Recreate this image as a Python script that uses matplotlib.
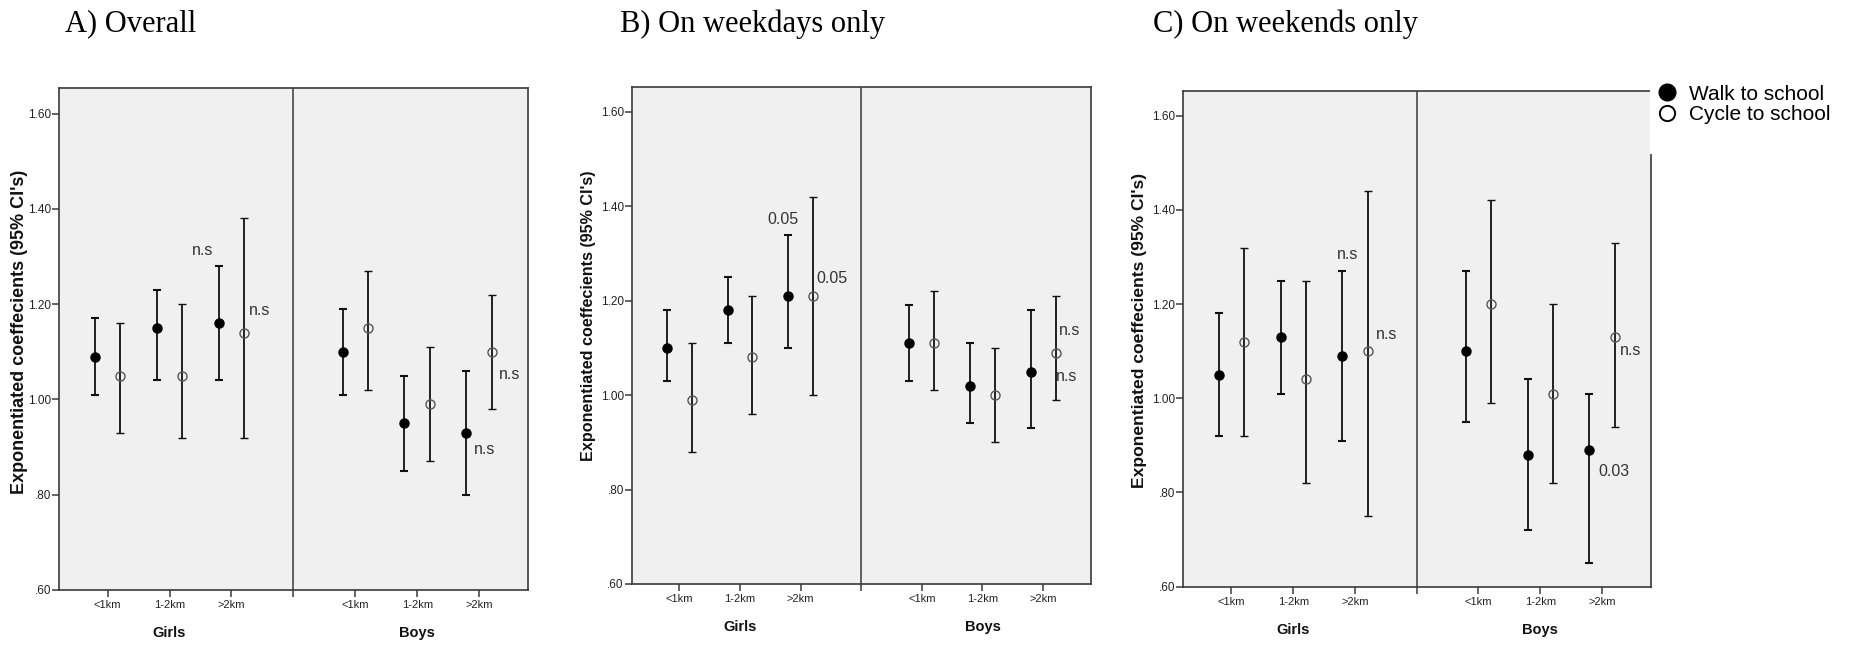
import matplotlib
matplotlib.use('Agg')
import matplotlib.pyplot as plt
import numpy as np
from matplotlib.lines import Line2D
from matplotlib.patches import Rectangle

# ---------------- data ----------------
distances = ['<1km', '1-2km', '>2km']
groups = ['Girls', 'Boys']
panel_titles = ['A) Overall', 'B) On weekdays only', 'C) On weekends only']
y_ticks = [0.60, 0.80, 1.00, 1.20, 1.40, 1.60]
y_tick_labels = ['.60', '.80', '1.00', '1.20', '1.40', '1.60']
series_names = ['Walk to school', 'Cycle to school']
y_label = "Exponentiated coeffecients (95% CI's)"

# order: Girls <1km, 1-2km, >2km, Boys <1km, 1-2km, >2km
a_walk_est = [1.09, 1.15, 1.16, 1.10, 0.95, 0.93]
a_walk_lo = [1.01, 1.04, 1.04, 1.01, 0.85, 0.80]
a_walk_hi = [1.17, 1.23, 1.28, 1.19, 1.05, 1.06]
a_cyc_est = [1.05, 1.05, 1.14, 1.15, 0.99, 1.10]
a_cyc_lo = [0.93, 0.92, 0.92, 1.02, 0.87, 0.98]
a_cyc_hi = [1.16, 1.20, 1.38, 1.27, 1.11, 1.22]

b_walk_est = [1.10, 1.18, 1.21, 1.11, 1.02, 1.05]
b_walk_lo = [1.03, 1.11, 1.10, 1.03, 0.94, 0.93]
b_walk_hi = [1.18, 1.25, 1.34, 1.19, 1.11, 1.18]
b_cyc_est = [0.99, 1.08, 1.21, 1.11, 1.00, 1.09]
b_cyc_lo = [0.88, 0.96, 1.00, 1.01, 0.90, 0.99]
b_cyc_hi = [1.11, 1.21, 1.42, 1.22, 1.10, 1.21]

c_walk_est = [1.05, 1.13, 1.09, 1.10, 0.88, 0.89]
c_walk_lo = [0.92, 1.01, 0.91, 0.95, 0.72, 0.65]
c_walk_hi = [1.18, 1.25, 1.27, 1.27, 1.04, 1.01]
c_cyc_est = [1.12, 1.04, 1.10, 1.20, 1.01, 1.13]
c_cyc_lo = [0.92, 0.82, 0.75, 0.99, 0.82, 0.94]
c_cyc_hi = [1.32, 1.25, 1.44, 1.42, 1.20, 1.33]

# significance labels (text, x in category units, y in data units)
a_notes = [('n.s', 2.54, 1.312), ('n.s', 3.45, 1.186), ('n.s', 7.50, 1.053), ('n.s', 7.09, 0.895)]
b_notes = [('0.05', 2.71, 1.372), ('0.05', 3.51, 1.247), ('n.s', 7.43, 1.137), ('n.s', 7.38, 1.039)]
c_notes = [('n.s', 2.88, 1.305), ('n.s', 3.51, 1.136), ('n.s', 7.47, 1.102), ('0.03', 7.20, 0.844)]

panels = [
    (a_walk_est, a_walk_lo, a_walk_hi, a_cyc_est, a_cyc_lo, a_cyc_hi, a_notes),
    (b_walk_est, b_walk_lo, b_walk_hi, b_cyc_est, b_cyc_lo, b_cyc_hi, b_notes),
    (c_walk_est, c_walk_lo, c_walk_hi, c_cyc_est, c_cyc_lo, c_cyc_hi, c_notes),
]

# ---------------- layout ----------------
W, H = 1851, 646
fig = plt.figure(figsize=(W / 100, H / 100), dpi=100)
fig.patch.set_facecolor('white')

# axes rectangles in pixels: left, top, right, bottom
rects = [(58.7, 88.3, 528.0, 590.0),
         (631.5, 86.9, 1091.0, 584.0),
         (1182.7, 90.7, 1650.7, 586.7)]
title_x = [65, 620, 1153]
ylab_pos = [(20, 332, 13.0), (588, 316, 11.6), (1139, 330, 12.6)]

SANS = ['Liberation Sans', 'DejaVu Sans']
SERIF = ['Liberation Serif', 'DejaVu Serif']
EDGE = '#3a3a3a'

group_pos = [np.arange(1, 4), np.arange(5, 8)]
pos = np.concatenate(group_pos).astype(float)
off = 0.205

for k, (rect, data) in enumerate(zip(rects, panels)):
    l, t, r, b = rect
    ax = fig.add_axes([l / W, 1 - b / H, (r - l) / W, (b - t) / H])
    ax.set_facecolor('#f0f0f0')
    we, wl, wh, ce, cl, ch, notes = data
    we, wl, wh = np.array(we), np.array(wl), np.array(wh)
    ce, cl, ch = np.array(ce), np.array(cl), np.array(ch)

    ax.errorbar(pos - off, we, yerr=[we - wl, wh - we], fmt='o', ms=6.5,
                mfc='black', mec='black', ecolor='#111111', elinewidth=1.3,
                capsize=2.6, capthick=1.5, zorder=3)
    ax.errorbar(pos + off, ce, yerr=[ce - cl, ch - ce], fmt='o', ms=6.5,
                mfc='none', mec='#555555', mew=1.0, ecolor='#111111',
                elinewidth=1.3, capsize=2.6, capthick=1.5, zorder=3)

    for txt, x, y in notes:
        ax.text(x, y, txt, ha='center', va='center', fontsize=11.5,
                color='#333333', family=SANS, zorder=4)

    ax.axvline(4, color=EDGE, lw=1.1, zorder=2)
    ax.set_xlim(0.21, 7.79)
    ax.set_ylim(0.60, 1.653)
    ax.set_xticks([1, 2, 3, 4, 5, 6, 7])
    ax.set_xticklabels(distances + [''] + distances, fontsize=8, family=SANS, color='#222222')
    ax.set_yticks(y_ticks)
    ax.set_yticklabels(y_tick_labels, fontsize=8.5, family=SANS, color='#222222')
    ax.tick_params(axis='both', direction='out', length=5, width=1.1, color=EDGE)
    ax.tick_params(axis='x', pad=2.5)
    ax.tick_params(axis='y', pad=0.5)
    for s in ax.spines.values():
        s.set_color(EDGE)
        s.set_linewidth(1.2)

    for g, gp in zip(groups, group_pos):
        ax.annotate(g, xy=(gp.mean(), 0), xycoords=ax.get_xaxis_transform(),
                    xytext=(0, -31), textcoords='offset points', ha='center',
                    va='center', fontsize=10.5, fontweight='bold', family=SANS,
                    color='#111111')

    fig.text(title_x[k] / W, 1 - 31.7 / H, panel_titles[k], ha='left',
             va='baseline', fontsize=22, family=SERIF, color='black')
    yx, yy, ys = ylab_pos[k]
    fig.text(yx / W, 1 - yy / H, y_label, rotation=90, ha='center', va='center',
             fontsize=ys, fontweight='bold', family=SANS, color='#111111')

# white legend background covering top-right corner of panel C
fig.add_artist(Rectangle((1649.5 / W, 1 - 154 / H), (W - 1649.5) / W, 154 / H,
                         transform=fig.transFigure, facecolor='white',
                         edgecolor='none', zorder=2))

handles = [Line2D([], [], ls='', marker='o', ms=12, mfc='black', mec='black'),
           Line2D([], [], ls='', marker='o', ms=11, mfc='white', mec='black', mew=1.4)]
fig.legend(handles, series_names, loc='upper left',
           bbox_to_anchor=(1656.3 / W, 1 - 84.7 / H), frameon=False,
           borderpad=0, borderaxespad=0, handlelength=1.0, handletextpad=0.55,
           labelspacing=0.08, prop={'family': SANS, 'size': 15})

fig.savefig('out.png', dpi=100, facecolor='white')
